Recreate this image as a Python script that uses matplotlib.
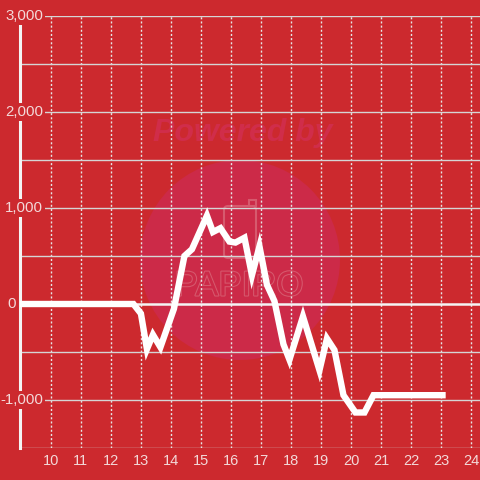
import matplotlib
matplotlib.use('Agg')
import matplotlib.pyplot as plt
import matplotlib.patheffects as pe
from matplotlib.patches import Circle, FancyBboxPatch, Rectangle

# PARAMETERS
hours = [9.0, 12.75, 13.0, 13.2, 13.4, 13.65, 14.1, 14.45, 14.7, 15.2, 15.4, 15.65,
         15.95, 16.15, 16.45, 16.7, 16.95, 17.2, 17.45, 17.75, 17.95, 18.4, 18.95,
         19.2, 19.45, 19.75, 20.15, 20.45, 20.75, 23.05]
values = [0, 0, -100, -470, -320, -450, -50, 500, 570, 920, 750, 790,
          650, 640, 690, 300, 600, 200, 30, -420, -580, -130, -690,
          -360, -480, -950, -1130, -1130, -950, -950]
x_ticks = list(range(10, 25))
y_major = [-1000, 0, 1000, 2000, 3000]
y_minor = [-1500, -500, 500, 1500, 2500]

bg = '#cc292e'
txt = '#f3d9d9'
grid = '#d5d5d5'
mark = '#d65a6e'

plt.rcParams['font.family'] = ['Liberation Sans', 'DejaVu Sans']

if __name__ == '__main__':
    fig = plt.figure(figsize=(4.8, 4.8), dpi=100, facecolor=bg)
    ax = fig.add_axes([20 / 480, 1 - 448 / 480, 460 / 480, 432 / 480])
    ax.set_facecolor(bg)

    # watermark (display pixels, origin bottom-left)
    ax.add_patch(Circle((240, 220), 100, transform=None, facecolor='#cc2a48',
                        edgecolor='none', zorder=1, clip_on=False))
    ax.add_patch(FancyBboxPatch((224, 222), 32, 52, boxstyle='round,pad=0,rounding_size=4',
                                transform=None, facecolor='none', edgecolor=mark,
                                lw=1.5, zorder=1.2, clip_on=False))
    ax.add_patch(Rectangle((249, 274), 7, 6, transform=None, facecolor='none',
                           edgecolor=mark, lw=1.5, zorder=1.2, clip_on=False))
    ax.text(243 / 480, 1 - 133 / 480, 'Powered by', transform=fig.transFigure,
            ha='center', va='center', fontsize=23, fontweight='bold', fontstyle='italic',
            color='#d02d4a', zorder=1.5)
    ax.text(239 / 480, 1 - 286 / 480, 'PAPIRO', transform=fig.transFigure,
            ha='center', va='center', fontsize=25, color='#cc2a48', zorder=1.5,
            path_effects=[pe.withStroke(linewidth=1.5, foreground=mark)])

    ax.set_xlim(8.97, 24.3)
    ax.set_ylim(-1500, 3000)

    for h in x_ticks:
        ax.axvline(h, color='#e6e6e6', lw=1, linestyle=(0, (1.5, 1.5)), zorder=2)
    for v in y_minor:
        ax.axhline(v, color=grid, lw=1, zorder=2)
    for v in y_major:
        if v == 0:
            ax.axhline(v, color='#f4f4f4', lw=1.8, zorder=2)
        else:
            ax.axhline(v, color=grid, lw=1, zorder=2)

    ax.plot(hours, values, color='white', lw=4.6, solid_joinstyle='miter', zorder=5)

    for s in ['top', 'right', 'bottom']:
        ax.spines[s].set_visible(False)
    ax.spines['left'].set_color('#f4f4f4')
    ax.spines['left'].set_linewidth(2.2)
    ax.spines['left'].set_zorder(3)

    ax.set_xticks(x_ticks)
    ax.set_xticklabels([str(h) for h in x_ticks])
    ax.tick_params(axis='x', length=0, pad=4, labelsize=10.5, labelcolor=txt)
    ax.set_yticks([])

    # y labels sit over the axis line with a background box
    ytrans = ax.get_yaxis_transform()
    for v in y_major:
        xpos = -4 / 460 if v == 0 else 23 / 460
        ax.text(xpos, v, f'{v:,}', transform=ytrans, ha='right', va='center',
                fontsize=10.8, color=txt, zorder=4, clip_on=False,
                bbox=dict(facecolor=bg, edgecolor='none', pad=1.5))

    plt.savefig('out.png', dpi=100, facecolor=bg)
